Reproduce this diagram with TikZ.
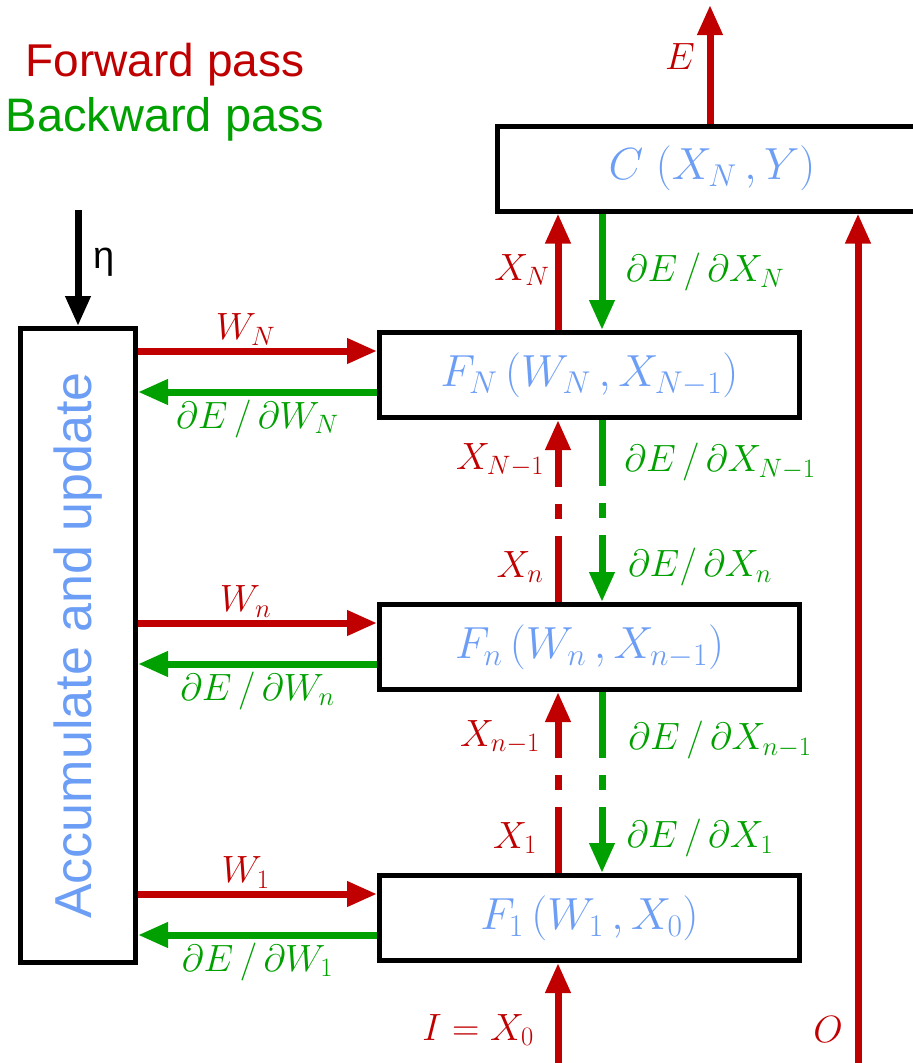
\RequirePackage{fix-cm}
\documentclass[tikz,border=0pt]{standalone}
\usepackage{fontspec}
\setmainfont{Liberation Sans}
\usetikzlibrary{arrows.meta, positioning, calc}
\definecolor{FwdRed}{HTML}{C00000}
\definecolor{BwdGreen}{HTML}{00A000}
\definecolor{BoxBlue}{HTML}{6D9EF5}

\begin{document}
\begin{tikzpicture}[x=1pt, y=-1pt,
    block/.style={draw=black, line width=5pt, minimum width=420pt, minimum height=85pt,
                  inner sep=0pt, text=BoxBlue, font=\fontsize{45}{48}\selectfont},
    fwd/.style={draw=FwdRed, line width=7pt, -{Triangle[length=30pt, width=24pt]}},
    bwd/.style={draw=BwdGreen, line width=7pt, -{Triangle[length=30pt, width=24pt]}},
    gapped/.style={dash pattern=on 66pt off 17pt on 15pt off 17pt on 300pt},
    flab/.style={text=FwdRed, font=\fontsize{38}{42}\selectfont},
    blab/.style={text=BwdGreen, font=\fontsize{38}{42}\selectfont}]
  \useasboundingbox (0,0) rectangle (913,1063);

  % legend
  \node[text=FwdRed, font=\fontsize{46}{50}\selectfont] (fwdkey) at (165,65) {Forward pass};
  \node[text=BwdGreen, font=\fontsize{47}{50}\selectfont, below=4pt of fwdkey] (bwdkey) {Backward pass};

  % boxes
  \node[draw=black, line width=5pt, minimum width=115pt, minimum height=634pt, inner sep=0pt]
        (acc) at (78,645.5) {};
  \node[rotate=90, text=BoxBlue, font=\fontsize{52}{56}\selectfont] (acctext) at (acc.center)
        {Accumulate and update};
  \node[block, minimum width=430pt] (C) at (712,168.5) {$C\ (X_N\,, Y)$};
  \node[block] (FN) at (589.5,375) {$F_N\,(W_N\,, X_{N-1})$};
  \node[block] (Fn) at (589.5,647) {$F_n\,(W_n\,, X_{n-1})$};
  \node[block] (F1) at (589.5,918) {$F_1\,(W_1\,, X_0)$};

  % learning rate
  \coordinate (etatop) at (78,210);
  \draw[draw=black, line width=7pt, -{Triangle[length=30pt, width=24pt]}] (etatop) -- (acc.north);
  \node[font=\fontsize{38}{40}\selectfont] (eta) at (104,262) {η};

  % cost output
  \coordinate (Etop) at (710,5);
  \draw[fwd] ([xshift=-2pt]C.north) -- (Etop);
  \node[flab] (E) at (680,57) {$E$};
  \coordinate (Obot) at (858,1063);
  \draw[fwd] (Obot) -- (Obot |- C.south);
  \node[flab] (O) at (828,1030) {$O$};

  % vertical chain
  \coordinate (Ibot) at (558,1063);
  \draw[fwd] (Ibot) -- ([xshift=181pt]F1.south west);
  \node[flab] (I) at (478,1030) {$I = X_0$};

  \draw[fwd] ([xshift=181pt]FN.north west) -- ([xshift=181pt]FN.north west |- C.south);
  \draw[bwd] ([xshift=225pt]FN.north west |- C.south) -- ([xshift=225pt]FN.north west);
  \node[flab] at (522,270) {$X_N$};
  \node[blab] at (705,272) {$\partial E\,/\,\partial X_N$};

  \draw[fwd, gapped] ([xshift=181pt]Fn.north west) -- ([xshift=181pt]FN.south west);
  \draw[bwd, gapped] ([xshift=225pt]FN.south west) -- ([xshift=225pt]Fn.north west);
  \node[flab] at (500,460) {$X_{N-1}$};
  \node[blab] at (720,462) {$\partial E\,/\,\partial X_{N-1}$};
  \node[flab] at (520,567) {$X_n$};
  \node[blab] at (700,567) {$\partial E/\,\partial X_n$};

  \draw[fwd, gapped] ([xshift=181pt]F1.north west) -- ([xshift=181pt]Fn.south west);
  \draw[bwd, gapped] ([xshift=225pt]Fn.south west) -- ([xshift=225pt]F1.north west);
  \node[flab] at (500,737) {$X_{n-1}$};
  \node[blab] at (720,740) {$\partial E\,/\,\partial X_{n-1}$};
  \node[flab] at (515,838) {$X_1$};
  \node[blab] at (700,838) {$\partial E\,/\,\partial X_1$};

  % weights and gradients
  \foreach \b/\w in {FN/N, Fn/n, F1/1} {
    \coordinate (w\b) at ([yshift=24pt]\b.west);
    \coordinate (g\b) at ([yshift=-17pt]\b.west);
    \draw[fwd] (acc.east |- w\b) -- (w\b);
    \draw[bwd] (g\b) -- (acc.east |- g\b);
    \node[flab, above=2pt] at ($(acc.east |- w\b)!0.45!(w\b)$) {$W_\w$};
    \node[blab, below=4pt] at ($(acc.east |- g\b)!0.5!(g\b)$) {$\partial E\,/\,\partial W_\w$};
  }
\end{tikzpicture}
\end{document}
